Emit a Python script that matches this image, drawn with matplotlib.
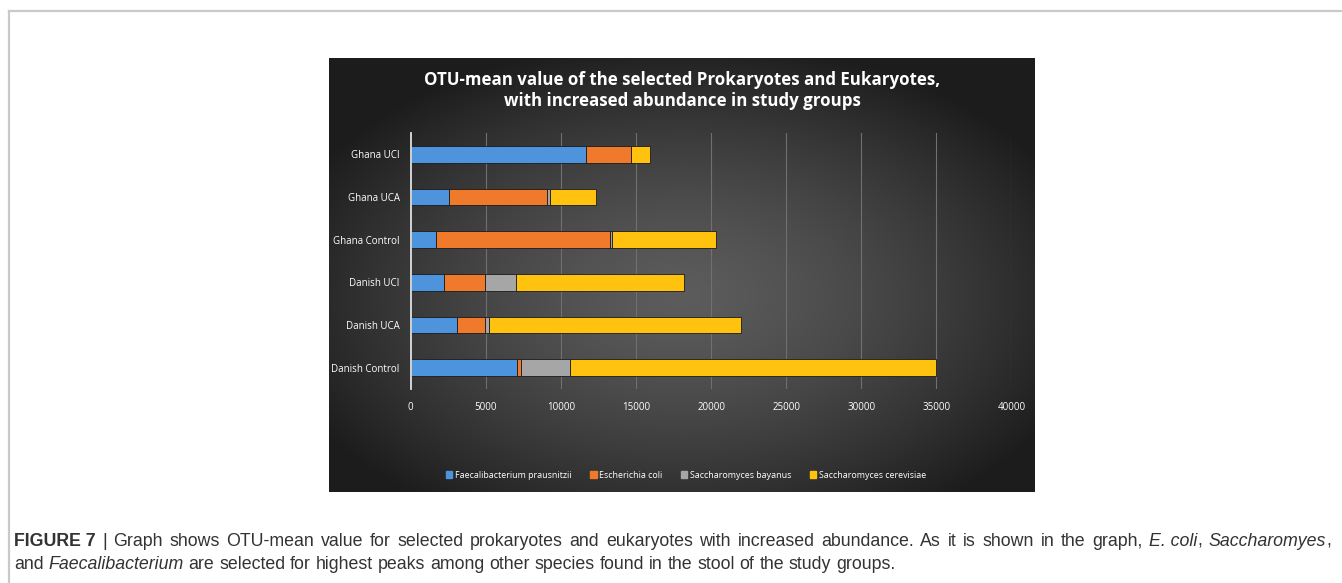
import numpy as np
import matplotlib
matplotlib.use("Agg")
import matplotlib.pyplot as plt
from matplotlib.lines import Line2D

# ---- data ----
groups = ["Danish Control", "Danish UCA", "Danish UCI",
          "Ghana Control", "Ghana UCA", "Ghana UCI"]
faecalibacterium = [7100, 3060, 2220, 1700, 2550, 11650]
escherichia = [270, 1870, 2700, 11570, 6550, 3000]
sacch_bayanus = [3230, 280, 2090, 130, 180, 0]
sacch_cerevisiae = [24350, 16800, 11200, 6930, 3050, 1300]
series_names = ["Faecalibacterium prausnitzii", "Escherichia coli",
                "Saccharomyces bayanus", "Saccharomyces cerevisiae"]
series_colors = ["#4d94dc", "#f07a2c", "#a6a6a6", "#ffc20e"]
x_ticks = [0, 5000, 10000, 15000, 20000, 25000, 30000, 35000, 40000]
title_lines = ["OTU-mean value of the selected Prokaryotes and Eukaryotes,",
               "with increased abundance in study groups"]

W, H = 1342, 583
fig = plt.figure(figsize=(W / 100, H / 100), dpi=100)
fig.patch.set_facecolor("white")

def fx(px):
    return px / W

def fy(py):
    return 1 - py / H

# page frame (top and left rules)
fig.add_artist(Line2D([fx(9), 1.0], [fy(11), fy(11)], color="#c9c9c9", lw=1.6))
fig.add_artist(Line2D([fx(9), fx(9)], [fy(11), 0.0], color="#c9c9c9", lw=1.6))

# ---- dark chart panel with radial shading ----
pl, pr, pt, pb = 329, 1035, 58, 492
bg = fig.add_axes([fx(pl), fy(pb), fx(pr - pl), fy(pt) - fy(pb)])
nx, ny = 400, 250
xx, yy = np.meshgrid(np.linspace(-1, 1, nx), np.linspace(-1, 1, ny))
cy = 0.1
r = np.sqrt((xx / 1.2) ** 2 + ((yy - cy) / 1.2) ** 2)
light, dark = 0.36, 0.11
shade = dark + (light - dark) * np.clip(1 - r ** 1.4, 0, 1)
bg.imshow(np.dstack([shade] * 3), aspect="auto", extent=[0, 1, 0, 1],
          interpolation="bilinear")
bg.set_xlim(0, 1)
bg.set_ylim(0, 1)
bg.axis("off")

# title
tfont = dict(family=["Open Sans", "DejaVu Sans"], weight="bold", color="white",
             fontsize=12.2)
fig.text(fx(682), fy(80), title_lines[0], ha="center", va="center", **tfont)
fig.text(fx(682), fy(101), title_lines[1], ha="center", va="center", **tfont)

# ---- bar chart ----
ax_l, ax_r, ax_t, ax_b = 410.7, 1011.5, 133, 389
ax = fig.add_axes([fx(ax_l), fy(ax_b), fx(ax_r - ax_l), fy(ax_t) - fy(ax_b)])
ax.set_facecolor("none")
ypos = np.arange(len(groups))
left = np.zeros(len(groups))
series = [faecalibacterium, escherichia, sacch_bayanus, sacch_cerevisiae]
for vals, col in zip(series, series_colors):
    vals = np.array(vals, dtype=float)
    ax.barh(ypos, vals, left=left, height=0.39, color=col,
            edgecolor="#1a1a1a", linewidth=0.6, zorder=3)
    left += vals

ax.set_xlim(0, 40000)
ax.set_ylim(-0.5, len(groups) - 0.5)
ax.set_xticks(x_ticks)
ax.set_xticklabels([str(t) for t in x_ticks])
ax.set_yticks(ypos)
ax.set_yticklabels(groups)
for t in ax.get_xticks()[1:]:
    ax.axvline(t, color="#707070", lw=0.8, zorder=1)
for s in ["top", "right", "bottom"]:
    ax.spines[s].set_visible(False)
ax.spines["left"].set_color("#e0e0e0")
ax.spines["left"].set_linewidth(1.3)
ax.spines["left"].set_zorder(4)
lab_family = ["Open Sans", "DejaVu Sans"]
ax.tick_params(axis="y", length=0, pad=8, labelcolor="white")
ax.tick_params(axis="x", length=0, pad=9, labelcolor="white")
for lab in ax.get_xticklabels() + ax.get_yticklabels():
    lab.set_fontfamily(lab_family)
    lab.set_fontsize(7)

# legend
handles = [plt.Rectangle((0, 0), 1, 1, color=c) for c in series_colors]
leg = fig.legend(handles, series_names, loc="center", ncol=4,
                 bbox_to_anchor=(fx(686), fy(475)), frameon=False,
                 prop={"family": lab_family, "size": 6.4},
                 handlelength=0.75, handleheight=0.75, handletextpad=0.3,
                 columnspacing=2.05, labelcolor="white")

# ---- caption with mixed styles (first line justified) ----
# "~" marks a space that stays at its natural width
cap_family = ["Liberation Sans", "DejaVu Sans"]
cap_size = 12.75
cap_color = "#333333"
line1 = [("FIGURE~7", "bold", "normal"),
         (" | Graph shows OTU-mean value for selected prokaryotes and eukaryotes "
          "with increased abundance. As it is shown in the graph,", "normal", "normal"),
         (" E.~coli", "normal", "italic"),
         (",", "normal", "normal"),
         (" Saccharomyes", "normal", "italic"),
         (",", "normal", "normal")]
line2 = [("and", "normal", "normal"),
         (" Faecalibacterium", "normal", "italic"),
         (" are selected for highest peaks among other species found in the stool "
          "of the study groups.", "normal", "normal")]

fig.canvas.draw()
renderer = fig.canvas.get_renderer()

def split_words(runs):
    toks = []
    for txt, wt, st in runs:
        pieces = txt.split(" ")
        for i, p in enumerate(pieces):
            if p == "":
                continue
            sp = i > 0
            toks.append((p.replace("~", " "), wt, st, sp))
    return toks

def measure(word, wt, st):
    t = fig.text(0, 0, word, family=cap_family, fontsize=cap_size,
                 weight=wt, style=st)
    w = t.get_window_extent(renderer=renderer).width
    t.remove()
    return w

def draw_line(runs, x0_px, y_px, target_w=None):
    toks = split_words(runs)
    widths = [measure(w, wt, st) for w, wt, st, _ in toks]
    space = measure("a a", "normal", "normal") - measure("aa", "normal", "normal")
    nsp = sum(1 for t in toks if t[3])
    if target_w is not None and nsp:
        space = (target_w - sum(widths)) / nsp
    x = x0_px
    for (word, wt, st, sp), w in zip(toks, widths):
        if sp:
            x += space
        fig.text(fx(x), fy(y_px), word, ha="left", va="baseline",
                 family=cap_family, fontsize=cap_size, weight=wt,
                 style=st, color=cap_color)
        x += w

draw_line(line1, 14, 546, target_w=1331 - 14)
draw_line(line2, 14, 569)

fig.savefig("out.png", dpi=100, facecolor="white")
